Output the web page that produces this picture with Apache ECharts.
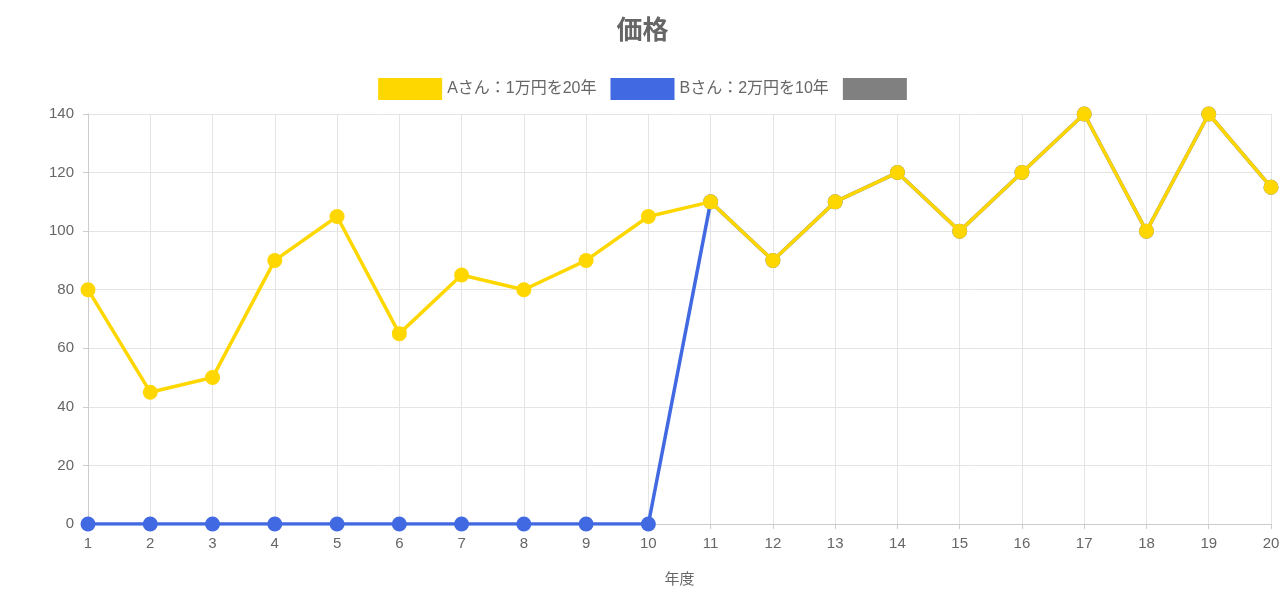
<!DOCTYPE html>
<html>
<head>
<meta charset="utf-8">
<script src="https://cdn.jsdelivr.net/npm/echarts@6/dist/echarts.min.js"></script>
<style>html,body{margin:0;padding:0;background:#fff}#chart{width:1285px;height:600px}</style>
</head>
<body>
<div id="chart"></div>
<script>
const years = ['1','2','3','4','5','6','7','8','9','10','11','12','13','14','15','16','17','18','19','20']
const seriesA = [80,45,50,90,105,65,85,80,90,105,110,90,110,120,100,120,140,100,140,115]
const seriesB = [0,0,0,0,0,0,0,0,0,0,110,90,110,120,100,120,140,100,140,115]
const seriesC = []
const nameA = 'Aさん：1万円を20年'
const nameB = 'Bさん：2万円を10年'
const nameC = 'C'

const chart = echarts.init(document.getElementById('chart'))
const font = '"Liberation Sans", "Noto Sans CJK JP", sans-serif'
chart.setOption({
  animation: false,
  textStyle: { fontFamily: font },
  title: {
    text: '価格', left: 'center', top: 14,
    textStyle: { fontSize: 26, fontWeight: 'bold', color: '#666', fontFamily: font }
  },
  legend: {
    top: 73, left: 'center', itemWidth: 64, itemHeight: 22, itemGap: 14,
    icon: 'rect',
    data: [nameA, nameB, nameC],
    formatter: n => n === nameC ? '' : n,
    textStyle: { fontSize: 16, color: '#666', fontFamily: font }
  },
  grid: { left: 88, right: 14, top: 114, bottom: 76 },
  xAxis: {
    type: 'category', data: years, boundaryGap: false,
    name: '年度', nameLocation: 'middle', nameGap: 48,
    nameTextStyle: { fontSize: 15, color: '#666' },
    axisLine: { lineStyle: { color: '#ccc' } },
    axisTick: { show: true, alignWithLabel: true, lineStyle: { color: '#ccc' } },
    axisLabel: { color: '#666', fontSize: 15, margin: 12 },
    splitLine: { show: true, lineStyle: { color: '#e4e4e4' } }
  },
  yAxis: {
    type: 'value', min: 0, max: 140, interval: 20,
    axisLine: { show: true, lineStyle: { color: '#ccc' } },
    axisTick: { show: true, lineStyle: { color: '#ccc' } },
    axisLabel: { color: '#666', fontSize: 15, margin: 14 },
    splitLine: { lineStyle: { color: '#e4e4e4' } }
  },
  series: [
    { name: nameB, type: 'line', data: seriesB, z: 2, color: '#4169e1',
      symbol: 'circle', symbolSize: 15, lineStyle: { width: 3.5 } },
    { name: nameA, type: 'line', data: seriesA, z: 3, color: '#ffd700',
      symbol: 'circle', symbolSize: 15, lineStyle: { width: 3.5 } },
    { name: nameC, type: 'line', data: seriesC, color: '#808080' }
  ]
})
</script>
</body>
</html>
